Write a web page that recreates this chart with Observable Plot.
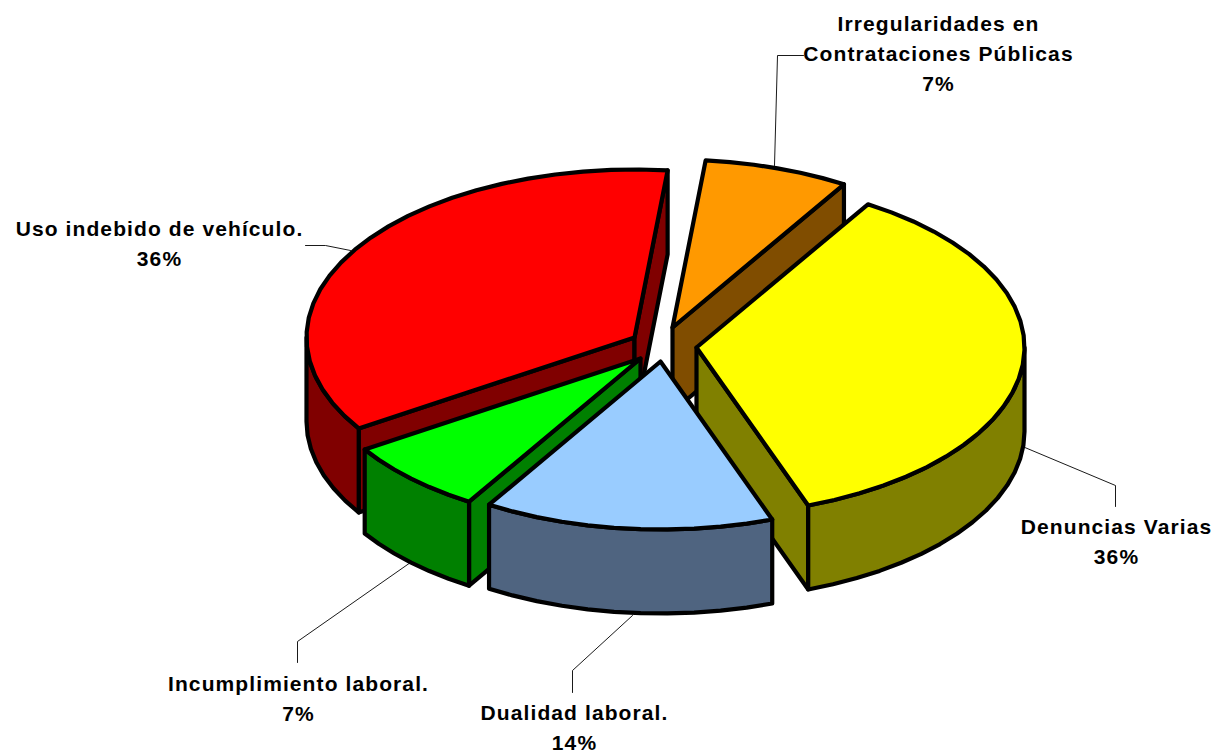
<!DOCTYPE html>
<html>
<head>
<meta charset="utf-8">
<script src="https://cdn.jsdelivr.net/npm/d3@7"></script>
<script src="https://cdn.jsdelivr.net/npm/@observablehq/plot@0.6"></script>
<style>
html,body{margin:0;padding:0;background:#fff;}
#chart svg{display:block;}
</style>
</head>
<body>
<div id="chart"></div>
<script>
// Data: slices clockwise from the top of the pie
const categories = ["Irregularidades en\nContrataciones Públicas", "Denuncias Varias", "Dualidad laboral.", "Incumplimiento laboral.", "Uso indebido de vehículo."];
const counts = [1, 5, 2, 1, 5];
const topColors = ["#ff9900", "#ffff00", "#99ccff", "#00ff00", "#ff0000"];
const wallColors = ["#804d00", "#808000", "#4f6480", "#008000", "#800000"];

// Drawing layout of the exploded 3D pie
const startAngle = 5.8, rx = 328, ry = 168, depth = 84;
const apexX = [672, 696, 660, 640, 634];
const apexY = [327, 347, 361, 358, 337];
const drawOrder = [4, 0, 1, 3, 2];
const labelX = [938, 1116, 574, 298, 159];
const labelY = [53.5, 542, 728, 698.5, 243.5];
const leaders = [
  [[803,55],[777,55],[774,165]],
  [[1115,506],[1115,485],[1022,446]],
  [[572,692],[572,670],[632,615]],
  [[297,662],[297,641],[410,562]],
  [[305,245],[325,245],[350,250]]
];

const total = d3.sum(counts);
const angles = [];
{ let a = startAngle; for (const c of counts) { angles.push([a, a + c / total * 360]); a += c / total * 360; } }
const rad = d => d * Math.PI / 180;
const rim = (i, a, dz = 0) => ({x: apexX[i] + rx * Math.sin(rad(a)), y: apexY[i] - ry * Math.cos(rad(a)) + dz});
function arc(i, a0, a1, dz = 0) {
  const n = Math.max(1, Math.ceil(Math.abs(a1 - a0) / 5));
  return d3.range(n + 1).map(k => rim(i, a0 + (a1 - a0) * k / n, dz));
}

const polys = [];
let pid = 0;
const add = (pts, fill) => { const id = pid++; pts.forEach(p => polys.push({id, x: p.x, y: p.y, fill})); };
for (const i of drawOrder) {
  const [a0, a1] = angles[i];
  const apex = {x: apexX[i], y: apexY[i]};
  const apexB = {x: apexX[i], y: apexY[i] + depth};
  // cut faces are visible when their outward normal points down-screen
  const startVisible = -Math.sin(rad(a0)) > 0;
  const endVisible = Math.sin(rad(a1)) > 0;
  if (startVisible) add([apex, rim(i, a0), rim(i, a0, depth), apexB], wallColors[i]);
  if (endVisible) add([apex, rim(i, a1), rim(i, a1, depth), apexB], wallColors[i]);
  // outer wall: only the front half of the rim
  const lo = Math.max(a0, 90), hi = Math.min(a1, 270);
  if (hi > lo) add([...arc(i, lo, hi), ...arc(i, hi, lo, depth)], wallColors[i]);
  // top
  add([apex, ...arc(i, a0, a1)], topColors[i]);
}

const leaderRows = leaders.flatMap((l, id) => l.map(([x, y]) => ({id, x, y})));
const labels = categories.map((c, i) => ({
  text: c + "\n" + d3.format(".0%")(counts[i] / total),
  x: labelX[i], y: labelY[i] - 3
}));

const plot = Plot.plot({
  width: 1216, height: 754,
  margin: 0,
  x: {domain: [0, 1216], range: [0, 1216], axis: null},
  y: {domain: [0, 754], range: [0, 754], axis: null},
  color: {type: "identity"},
  style: {background: "#fff", letterSpacing: "1.1px"},
  marks: [
    Plot.line(leaderRows, {x: "x", y: "y", z: "id", stroke: "#000", strokeWidth: 0.9}),
    Plot.line(polys, {x: "x", y: "y", z: "id", fill: "fill", stroke: "#000", strokeWidth: 4.2, strokeLinejoin: "round", curve: "linear-closed"}),
    Plot.text(labels, {x: "x", y: "y", text: "text", fontSize: 21, fontWeight: "bold", fontFamily: "Liberation Sans, Arial, sans-serif", fill: "#000", lineHeight: 1.43, textAnchor: "middle", lineAnchor: "middle"})
  ]
});
document.getElementById("chart").appendChild(plot);
</script>
</body>
</html>
